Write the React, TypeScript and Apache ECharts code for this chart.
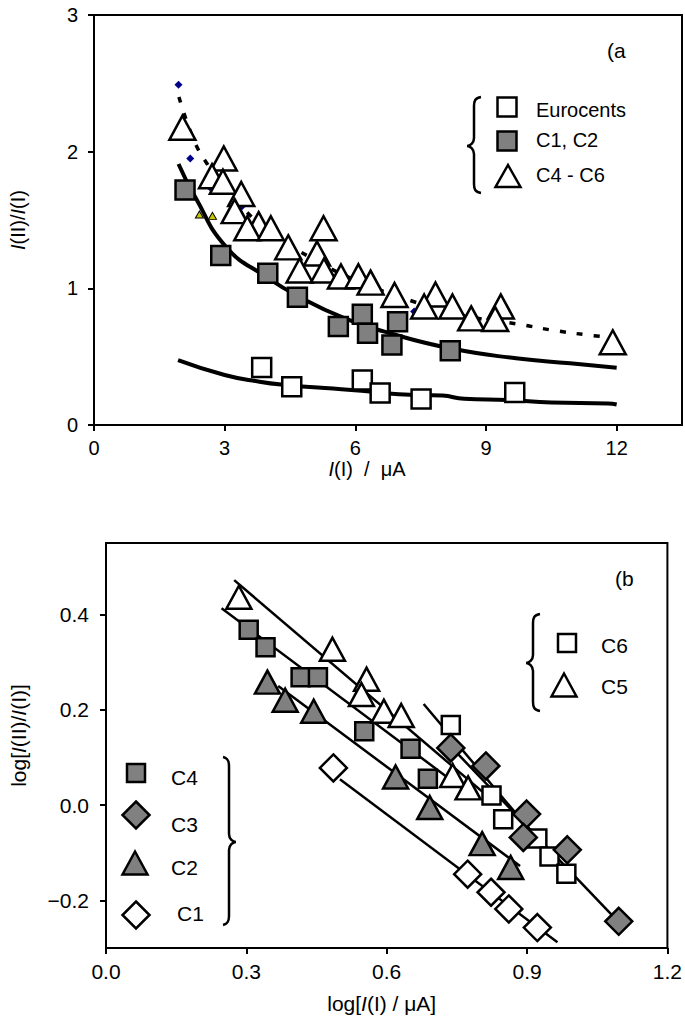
import React, { useEffect, useRef } from 'react';
import * as echarts from 'echarts';

const FONT = '"Liberation Sans", Arial, Helvetica, sans-serif';

// ---------- Panel (a) ----------
const topXTicks = [0, 3, 6, 9, 12];
const topYTicks = [0, 1, 2, 3];

const euroX = [3.85, 4.54, 6.16, 6.57, 7.51, 9.66];
const euroY = [0.42, 0.28, 0.33, 0.235, 0.19, 0.238];

const c12X = [2.09, 2.91, 3.99, 4.67, 5.61, 6.16, 6.28, 6.84, 6.97, 8.18];
const c12Y = [1.72, 1.24, 1.11, 0.935, 0.72, 0.81, 0.671, 0.585, 0.756, 0.544];

const c46X = [2.03, 2.98, 2.71, 2.96, 3.38, 3.23, 3.78, 3.52, 4.06, 4.46, 5.27, 5.12, 4.72, 5.28, 5.67, 6.07, 6.35, 6.9, 7.84, 7.58, 8.23, 8.66, 9.34, 9.21, 11.91];
const c46Y = [2.175, 1.95, 1.82, 1.78, 1.69, 1.565, 1.47, 1.44, 1.44, 1.3, 1.44, 1.255, 1.13, 1.13, 1.087, 1.088, 1.042, 0.951, 0.955, 0.867, 0.867, 0.78, 0.867, 0.776, 0.605];

const blueX = [1.94, 2.21, 2.66, 3.4, 7.35];
const blueY = [2.49, 1.95, 1.74, 1.6, 0.83];

const tinyX = [2.42, 2.72];
const tinyY = [1.54, 1.53];

const euroFitX = [1.93, 3.0, 3.8, 4.4, 5.3, 6.14, 7.0, 8.0, 8.5, 9.5, 10.5, 11.8, 12.0];
const euroFitY = [0.475, 0.366, 0.317, 0.293, 0.27, 0.25, 0.225, 0.215, 0.192, 0.183, 0.165, 0.158, 0.15];

const c12FitX = [1.94, 2.32, 3.04, 3.95, 4.7, 5.76, 6.67, 8.18, 9.69, 10.93, 12.0];
const c12FitY = [1.91, 1.67, 1.3, 1.085, 0.94, 0.78, 0.683, 0.561, 0.488, 0.451, 0.419];

const c46FitX = [1.95, 2.3, 2.6, 3.0, 3.5, 4.0, 5.0, 6.0, 7.0, 8.0, 9.0, 9.7, 10.5, 11.3, 11.9];
const c46FitY = [2.4, 2.08, 1.91, 1.73, 1.56, 1.42, 1.22, 1.06, 0.94, 0.84, 0.77, 0.74, 0.695, 0.66, 0.64];

// ---------- Panel (b) ----------
const botXTicks = [0, 0.3, 0.6, 0.9, 1.2];
const botYTicks = [-0.2, 0, 0.2, 0.4];

const c6X = [0.737, 0.824, 0.849, 0.922, 0.948, 0.984];
const c6Y = [0.168, 0.02, -0.03, -0.07, -0.108, -0.144];
const c5X = [0.284, 0.484, 0.557, 0.546, 0.594, 0.631, 0.741, 0.774];
const c5Y = [0.436, 0.327, 0.264, 0.232, 0.197, 0.188, 0.062, 0.036];
const c4X = [0.305, 0.341, 0.416, 0.453, 0.552, 0.651, 0.688];
const c4Y = [0.368, 0.331, 0.268, 0.268, 0.155, 0.118, 0.055];
const c3X = [0.737, 0.812, 0.899, 0.892, 0.986, 1.096];
const c3Y = [0.12, 0.082, -0.019, -0.068, -0.094, -0.244];
const c2X = [0.345, 0.383, 0.444, 0.619, 0.692, 0.804, 0.865];
const c2Y = [0.258, 0.22, 0.197, 0.059, -0.005, -0.081, -0.131];
const c1X = [0.486, 0.773, 0.823, 0.861, 0.922];
const c1Y = [0.078, -0.145, -0.183, -0.218, -0.257];

const fitC5X = [0.274, 0.82];
const fitC5Y = [0.472, 0.015];
const fitC4X = [0.247, 0.76];
const fitC4Y = [0.413, 0.036];
const fitC2X = [0.368, 0.885];
const fitC2Y = [0.25, -0.128];
const fitC1X = [0.5, 0.965];
const fitC1Y = [0.054, -0.288];
const fitC6X = [0.679, 0.99];
const fitC6Y = [0.212, -0.15];
const fitC3X = [0.73, 1.1];
const fitC3Y = [0.13, -0.25];

const zip = (xs: number[], ys: number[]) => xs.map((x, i) => [x, ys[i]]);

function braceLeft(xr: number, xm: number, x0: number, y1: number, ym: number, y2: number) {
  return `M${xr} ${y1} C${xm + 1} ${y1 + 1} ${xm} ${y1 + 4} ${xm} ${y1 + 9} L${xm} ${ym - 8} C${xm} ${ym - 3} ${x0 + 3} ${ym} ${x0} ${ym} C${x0 + 3} ${ym} ${xm} ${ym + 3} ${xm} ${ym + 8} L${xm} ${y2 - 9} C${xm} ${y2 - 4} ${xm + 1} ${y2 - 1} ${xr} ${y2}`;
}
function braceRight(xl: number, xm: number, x0: number, y1: number, ym: number, y2: number) {
  return `M${xl} ${y1} C${xm - 1} ${y1 + 1} ${xm} ${y1 + 4} ${xm} ${y1 + 9} L${xm} ${ym - 8} C${xm} ${ym - 3} ${x0 - 3} ${ym} ${x0} ${ym} C${x0 - 3} ${ym} ${xm} ${ym + 3} ${xm} ${ym + 8} L${xm} ${y2 - 9} C${xm} ${y2 - 4} ${xm - 1} ${y2 - 1} ${xl} ${y2}`;
}

echarts.graphic.registerShape('braceA', echarts.graphic.extendPath(braceLeft(481, 474, 467, 97, 146, 193), {}));
echarts.graphic.registerShape('braceB1', echarts.graphic.extendPath(braceLeft(540, 533, 526, 614, 663, 711), {}));
echarts.graphic.registerShape('braceB2', echarts.graphic.extendPath(braceRight(223, 229, 236, 757, 842, 925), {}));

const GRAY = '#808080';
const BW = 2.5;

const labelStyle = (size: number) => ({
  fontSize: size,
  fontFamily: FONT,
  color: '#000',
  rich: { i: { fontStyle: 'italic', fontSize: size, fontFamily: FONT, color: '#000' } },
});

const fmt = (v: number) => (v < 0 ? '\u2212' + (-v).toFixed(1) : v.toFixed(1));

function axisBase(ticks: number[], size: number, margin: number) {
  return {
    type: 'value' as const,
    axisLine: { show: true, onZero: false, lineStyle: { color: '#000', width: 2 } },
    axisTick: { show: true, inside: false, length: 6, lineStyle: { color: '#000', width: 2 }, customValues: ticks },
    axisLabel: { color: '#000', fontSize: size, fontFamily: FONT, margin, customValues: ticks },
    splitLine: { show: false },
  };
}

function tri(x: number, y: number, w: number, h: number, fill: string) {
  return {
    type: 'polygon',
    shape: { points: [[x, y - h / 2], [x + w / 2, y + h / 2], [x - w / 2, y + h / 2]] },
    style: { fill, stroke: '#000', lineWidth: BW },
  };
}
function dia(x: number, y: number, s: number, fill: string) {
  return {
    type: 'polygon',
    shape: { points: [[x, y - s / 2], [x + s / 2, y], [x, y + s / 2], [x - s / 2, y]] },
    style: { fill, stroke: '#000', lineWidth: BW },
  };
}
function sq(x: number, y: number, s: number, fill: string) {
  return {
    type: 'rect',
    shape: { x: x - s / 2, y: y - s / 2, width: s, height: s },
    style: { fill, stroke: '#000', lineWidth: BW },
  };
}
function txt(x: number, y: number, text: string, size = 20) {
  return {
    type: 'text',
    x,
    y,
    style: { text, font: `${size}px ${FONT}`, fill: '#000', textAlign: 'left', textVerticalAlign: 'middle' },
  };
}

export default function App() {
  const ref = useRef<HTMLDivElement>(null);
  useEffect(() => {
    document.body.style.margin = '0';
    if (!ref.current) return;
    const chart = echarts.init(ref.current, undefined, { renderer: 'svg' });

    const line = (name: string, xi: number, xs: number[], ys: number[], width: number, type: any = 'solid', smooth = true) => ({
      name,
      type: 'line',
      xAxisIndex: xi,
      yAxisIndex: xi,
      data: zip(xs, ys),
      smooth,
      showSymbol: false,
      symbol: 'none',
      lineStyle: { color: '#000', width, type },
      z: 2,
    });
    const scatter = (name: string, xi: number, xs: number[], ys: number[], symbol: string, size: any, fill: string, bw = BW, border = '#000') => ({
      name,
      type: 'scatter',
      xAxisIndex: xi,
      yAxisIndex: xi,
      data: zip(xs, ys),
      symbol,
      symbolSize: size,
      itemStyle: { color: fill, borderColor: border, borderWidth: bw, opacity: 1 },
      z: 3,
    });

    chart.setOption({
      animation: false,
      backgroundColor: '#fff',
      grid: [
        { left: 86, top: 15, width: 596, height: 410, show: true, borderColor: '#000', borderWidth: 2, backgroundColor: 'transparent' },
        { left: 98, top: 543, width: 578, height: 405, show: true, borderColor: '#000', borderWidth: 2, backgroundColor: 'transparent' },
      ],
      xAxis: [
        {
          ...axisBase(topXTicks, 20, 13),
          gridIndex: 0,
          min: 0,
          max: 13.5,
          name: '{i|I}(I)  /  \u03bcA',
          nameLocation: 'middle',
          nameGap: 30,
          nameTextStyle: { ...labelStyle(20), padding: [0, 42, 0, 0] },
        },
        {
          ...axisBase(botXTicks, 21, 13),
          gridIndex: 1,
          min: 0,
          max: 1.2,
          axisLabel: { ...axisBase(botXTicks, 21, 13).axisLabel, formatter: fmt },
          name: 'log[{i|I}(I) / \u03bcA]',
          nameLocation: 'middle',
          nameGap: 45,
          nameTextStyle: { ...labelStyle(21), padding: [0, 10, 0, 0] },
        },
      ],
      yAxis: [
        {
          ...axisBase(topYTicks, 20, 16),
          gridIndex: 0,
          min: 0,
          max: 3,
          name: '{i|I}(II)/{i|I}(I)',
          nameLocation: 'middle',
          nameGap: 66,
          nameTextStyle: labelStyle(20),
        },
        {
          ...axisBase(botYTicks, 21, 17),
          gridIndex: 1,
          min: -0.3,
          max: 0.55,
          axisLabel: { ...axisBase(botYTicks, 21, 17).axisLabel, formatter: fmt },
          name: 'log[{i|I}(II)/{i|I}(I)]',
          nameLocation: 'middle',
          nameGap: 77,
          nameTextStyle: { ...labelStyle(21), padding: [0, 0, 0, 20] },
        },
      ],
      series: [
        line('Eurocents fit', 0, euroFitX, euroFitY, 4),
        line('C1, C2 fit', 0, c12FitX, c12FitY, 4),
        line('C4 - C6 fit', 0, c46FitX, c46FitY, 3.5, [6, 11]),
        scatter('extra', 0, blueX, blueY, 'diamond', 8, '#00008b', 0),
        scatter('extra small', 0, tinyX, tinyY, 'triangle', [8, 7], '#c8c800', 1),
        scatter('Eurocents', 0, euroX, euroY, 'rect', 19, '#fff'),
        scatter('C1, C2', 0, c12X, c12Y, 'rect', 19, GRAY),
        scatter('C4 - C6', 0, c46X, c46Y, 'triangle', [26, 24], '#fff'),

        line('C5 fit', 1, fitC5X, fitC5Y, 2.5, 'solid', false),
        line('C4 fit', 1, fitC4X, fitC4Y, 2.5, 'solid', false),
        line('C2 fit', 1, fitC2X, fitC2Y, 2.5, 'solid', false),
        line('C1 fit', 1, fitC1X, fitC1Y, 2.5, 'solid', false),
        line('C6 fit', 1, fitC6X, fitC6Y, 2.5, 'solid', false),
        line('C3 fit', 1, fitC3X, fitC3Y, 2.5, 'solid', false),
        scatter('C1', 1, c1X, c1Y, 'diamond', 27, '#fff'),
        scatter('C2', 1, c2X, c2Y, 'triangle', [25, 23], GRAY),
        scatter('C4', 1, c4X, c4Y, 'rect', 18, GRAY),
        scatter('C5', 1, c5X, c5Y, 'triangle', [25, 23], '#fff'),
        scatter('C6', 1, c6X, c6Y, 'rect', 18, '#fff'),
        scatter('C3', 1, c3X, c3Y, 'diamond', 27, GRAY),
      ],
      graphic: [
        { type: 'braceA', x: 0, y: 0, style: { fill: 'none', stroke: '#000', lineWidth: 2.5 } },
        { type: 'braceB1', x: 0, y: 0, style: { fill: 'none', stroke: '#000', lineWidth: 2.5 } },
        { type: 'braceB2', x: 0, y: 0, style: { fill: 'none', stroke: '#000', lineWidth: 2.5 } },
        sq(507, 107, 19, '#fff'),
        sq(507, 141, 19, GRAY),
        tri(508, 176, 25, 22, '#fff'),
        txt(536, 110, 'Eurocents'),
        txt(536, 140, 'C1, C2'),
        txt(536, 175, 'C4 - C6'),
        txt(607, 50, '(a', 21),
        sq(567, 643, 18, '#fff'),
        tri(564, 685, 25, 23, '#fff'),
        txt(601, 645, 'C6', 21),
        txt(601, 686, 'C5', 21),
        sq(136, 773, 18, GRAY),
        dia(136, 815, 27, GRAY),
        tri(135, 863, 25, 23, GRAY),
        dia(136, 915, 27, '#fff'),
        txt(171, 777, 'C4', 21),
        txt(171, 824, 'C3', 21),
        txt(171, 867, 'C2', 21),
        txt(177, 913, 'C1', 21),
        txt(615, 578, '(b', 21),
      ],
    });
    return () => chart.dispose();
  }, []);
  return <div ref={ref} style={{ width: 685, height: 1022 }} />;
}
